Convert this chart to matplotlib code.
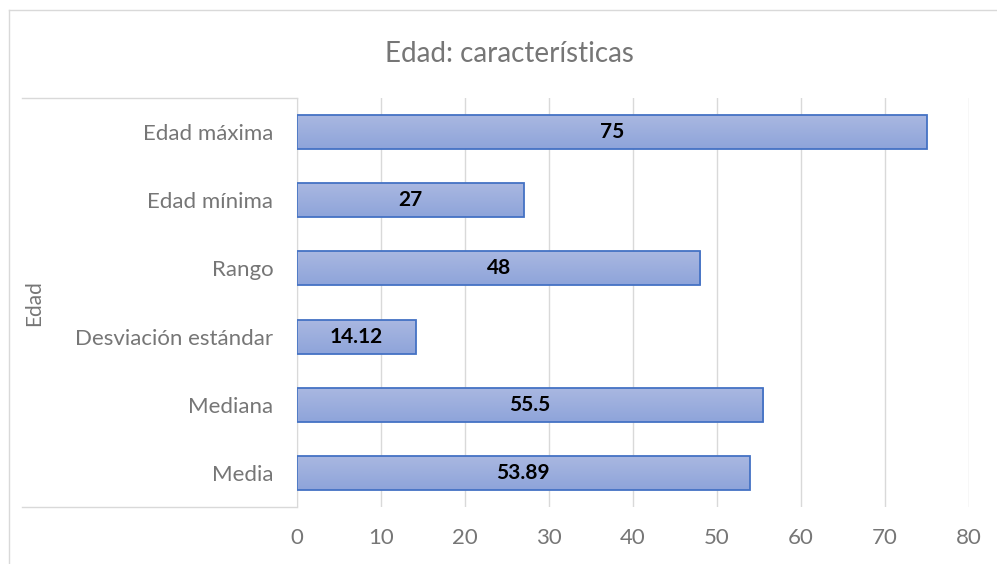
import numpy as np
import matplotlib
matplotlib.use("Agg")
import matplotlib.pyplot as plt
from matplotlib.lines import Line2D
from matplotlib.colors import LinearSegmentedColormap

# chart data (bottom to top)
categories = ['Media', 'Mediana', 'Desviación estándar', 'Rango', 'Edad mínima', 'Edad máxima']
values = [53.89, 55.5, 14.12, 48, 27, 75]
labels = ['53.89', '55.5', '14.12', '48', '27', '75']
xticks = [0, 10, 20, 30, 40, 50, 60, 70, 80]

plt.rcParams['font.family'] = ['Lato', 'DejaVu Sans']
gray = '#767676'

W, H = 997, 564
fig = plt.figure(figsize=(W / 100, H / 100), dpi=100)

def fx(px):
    return px / W

def fy(py):
    return 1 - py / H

# outer chart border (only left and top visible)
fig.add_artist(Line2D([fx(9), fx(9)], [fy(10), 0], color='#d9d9d9', lw=1))
fig.add_artist(Line2D([fx(9), 1], [fy(10), fy(10)], color='#d9d9d9', lw=1))

# category label box lines
fig.add_artist(Line2D([fx(22), fx(297)], [fy(98), fy(98)], color='#d9d9d9', lw=1))
fig.add_artist(Line2D([fx(22), fx(297)], [fy(507), fy(507)], color='#d9d9d9', lw=1))

ax = fig.add_axes([fx(297), fy(507), fx(969) - fx(297), fy(98) - fy(507)])
y = np.arange(len(categories))
bars = ax.barh(y, values, height=0.5, color='none', edgecolor='#4472c4', linewidth=1.3, zorder=3)

# gradient fill clipped to each bar
cmap = LinearSegmentedColormap.from_list('bar', ['#8ea4da', '#aab8e1'])
grad = np.linspace(0, 1, 100).reshape(-1, 1)
for b in bars:
    x0, y0 = b.get_x(), b.get_y()
    w, h = b.get_width(), b.get_height()
    im = ax.imshow(grad, cmap=cmap, aspect='auto', origin='lower',
                   extent=[x0, x0 + w, y0, y0 + h], zorder=2)
    im.set_clip_path(b)

for yi, v, lab in zip(y, values, labels):
    ax.text(v / 2, yi, lab, ha='center', va='center', fontsize=15,
            fontweight='bold', color='black', zorder=4)

ax.set_xlim(0, 80)
ax.set_ylim(-0.5, len(categories) - 0.5)
ax.set_xticks(xticks)
ax.set_yticks(y)
ax.set_yticklabels(categories)
ax.tick_params(axis='both', length=0, colors=gray, labelsize=16)
ax.tick_params(axis='x', pad=15)
ax.tick_params(axis='y', pad=17)
ax.grid(axis='x', color='#d9d9d9', lw=1, zorder=0)
for s in ['top', 'bottom', 'right']:
    ax.spines[s].set_visible(False)
ax.spines['left'].set_color('#d9d9d9')
ax.set_axisbelow(True)

fig.text(fx(509), fy(54), 'Edad: características', ha='center', va='center',
         fontsize=20, color=gray)
fig.text(fx(34), fy(303), 'Edad', ha='center', va='center', rotation=90,
         fontsize=15, color=gray)

fig.savefig('out.png', dpi=100)
